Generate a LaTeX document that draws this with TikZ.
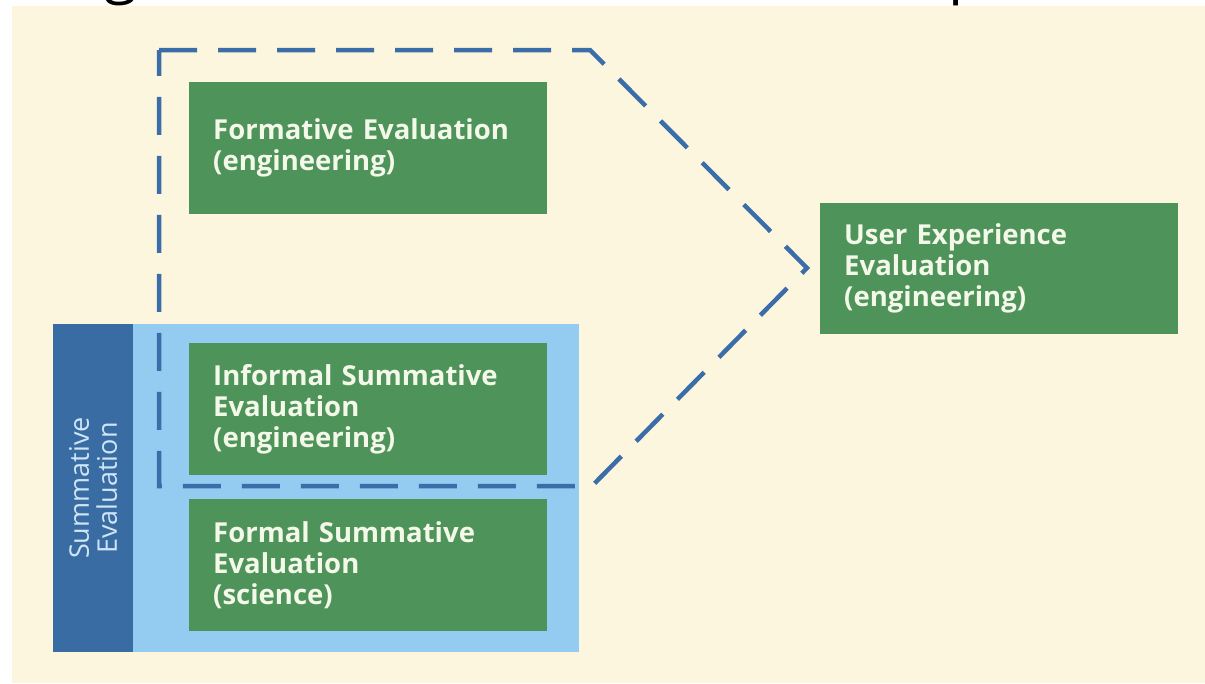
\documentclass[tikz,border=0pt]{standalone}
\usepackage{fontspec}
\setmainfont{Open Sans}
\definecolor{cream}{HTML}{FDF6DE}
\definecolor{boxgreen}{HTML}{4E935A}
\definecolor{lightblue}{HTML}{93CCF0}
\definecolor{darkblue}{HTML}{3A6CA4}
\definecolor{dashblue}{HTML}{3B6EA8}
\definecolor{textwhite}{HTML}{F3F8E8}
\definecolor{labelblue}{HTML}{CFE5F6}
\begin{document}
\begin{tikzpicture}[x=1pt,y=-1pt,
  evalbox/.style={fill=boxgreen, draw=none, text=textwhite,
    font=\fontsize{27.5}{31}\selectfont\bfseries, align=left, anchor=north west,
    inner xsep=24pt, inner ysep=0pt, text width=310pt, minimum height=132pt},
  dashframe/.style={draw=dashblue, line width=4.5pt, dash pattern=on 38pt off 21pt, line join=miter},
  fragment/.style={font=\fontsize{60}{60}\selectfont, text=black, anchor=base west, inner sep=0pt}]
\useasboundingbox (0,0) rectangle (1205,683);
\fill[white] (0,0) rectangle (1205,683);
\fill[cream] (12,6) rectangle (1205,683);
% cut-off title fragments
\begin{scope}
\clip (0,0) rectangle (1205,6);
\node[fragment] (fragA) at (104,-9) {g};
\node[fragment] (fragB) at (948,-9) {p,};
\end{scope}
% summative region
\fill[lightblue] (53,324) rectangle (579,652);
\node[fill=darkblue, rotate=90, minimum width=328pt, minimum height=80pt, inner sep=0pt,
  text=labelblue, font=\fontsize{27}{28}\selectfont, align=center] (sum) at (93,488) {Summative\\Evaluation};
% boxes
\node[evalbox] (form) at (189,82) {Formative Evaluation\\(engineering)};
\node[evalbox] (inf) at (189,343) {Informal Summative\\Evaluation\\(engineering)};
\node[evalbox] (formal) at (189,499) {Formal Summative\\Evaluation\\(science)};
\node[evalbox, minimum height=131pt] (ux) at (820,203) {User Experience\\Evaluation\\(engineering)};
% dashed frame
\coordinate (tl) at (159,50);
\coordinate (tr) at (590,50);
\coordinate (tip) at (807,268);
\coordinate (br) at (592,486);
\coordinate (bl) at (159,486);
\draw[dashframe] (tl) -- (tr) -- (tip) -- (br) -- (bl) -- cycle;
\end{tikzpicture}
\end{document}
